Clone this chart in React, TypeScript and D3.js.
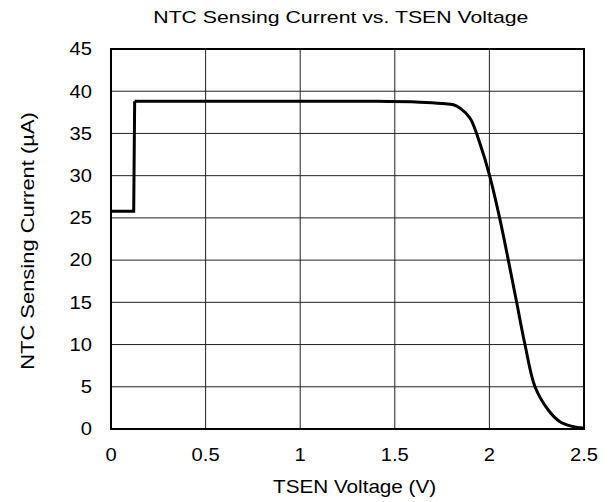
import React from "react";
import * as d3 from "d3";

const stepVoltage = [0, 0.12, 0.125];
const stepCurrent = [25.8, 25.8, 38.8];
const voltage = [0.125, 0.5, 1.0, 1.4, 1.633, 1.75, 1.81, 1.845, 1.898, 1.95, 2.0, 2.056, 2.1, 2.144, 2.188, 2.241, 2.311, 2.373, 2.44, 2.5];
const current = [38.8, 38.8, 38.8, 38.8, 38.7, 38.55, 38.4, 38.0, 36.8, 33.8, 30.1, 24.8, 20, 15, 10, 5, 2.25, 0.86, 0.3, 0.1];
const xTicks = [0, 0.5, 1, 1.5, 2, 2.5];
const xTickLabels = ["0", "0.5", "1", "1.5", "2", "2.5"];
const yTicks = [0, 5, 10, 15, 20, 25, 30, 35, 40, 45];
const title = "NTC Sensing Current vs. TSEN Voltage";
const xLabel = "TSEN Voltage (V)";
const yLabel = "NTC Sensing Current (µA)";

export default function App() {
  const W = 612, H = 502;
  const L = 111, R = 584, T = 49, B = 429;
  const x = d3.scaleLinear().domain([0, 2.5]).range([L, R]);
  const y = d3.scaleLinear().domain([0, 45]).range([B, T]);
  const pts: [number, number][] = voltage.map((v, i) => [v, current[i]]);
  const stepPts: [number, number][] = stepVoltage.map((v, i) => [v, stepCurrent[i]]);
  const smooth = d3
    .line<[number, number]>()
    .x((d) => x(d[0]))
    .y((d) => y(d[1]))
    .curve(d3.curveCatmullRom.alpha(0.5));
  const straight = d3.line<[number, number]>().x((d) => x(d[0])).y((d) => y(d[1]));
  const font = "Arial, 'Liberation Sans', sans-serif";
  const tickFs = 18, tickSx = 1.12;
  return (
    <svg width={W} height={H} style={{ position: "absolute", left: 0, top: 0 }} fontFamily={font}>
      <rect width={W} height={H} fill="#fff" />
      <g transform={`translate(153.3, 22.7) scale(1.25, 1)`}>
        <text x={0} y={0} fontSize={17} fill="#000">{title}</text>
      </g>
      {xTicks.map((t) => (
        <line key={"gx" + t} x1={x(t)} x2={x(t)} y1={T} y2={B} stroke="#222" strokeWidth={1} />
      ))}
      {yTicks.map((t) => (
        <line key={"gy" + t} x1={L} x2={R} y1={y(t)} y2={y(t)} stroke="#222" strokeWidth={1} />
      ))}
      <rect x={L} y={T} width={R - L} height={B - T} fill="none" stroke="#000" strokeWidth={2} />
      <path d={straight(stepPts) || ""} fill="none" stroke="#000" strokeWidth={3} strokeLinejoin="miter" />
      <path d={smooth(pts) || ""} fill="none" stroke="#000" strokeWidth={3} strokeLinejoin="round" />
      {xTicks.map((t, i) => (
        <g key={"tx" + t} transform={`translate(${x(t)}, 461) scale(${tickSx}, 1)`}>
          <text x={0} y={0} textAnchor="middle" fontSize={tickFs} fill="#000">{xTickLabels[i]}</text>
        </g>
      ))}
      {yTicks.map((t) => (
        <g key={"ty" + t} transform={`translate(92, ${y(t) + 6.3}) scale(${tickSx}, 1)`}>
          <text x={0} y={0} textAnchor="end" fontSize={tickFs} fill="#000">{t}</text>
        </g>
      ))}
      <g transform={`translate(273, 493) scale(1.15, 1)`}>
        <text x={0} y={0} fontSize={18} fill="#000">{xLabel}</text>
      </g>
      <g transform={`translate(33.5, 241) rotate(-90) scale(1.22, 1)`}>
        <text x={0} y={0} textAnchor="middle" fontSize={18} fill="#000">{yLabel}</text>
      </g>
    </svg>
  );
}
